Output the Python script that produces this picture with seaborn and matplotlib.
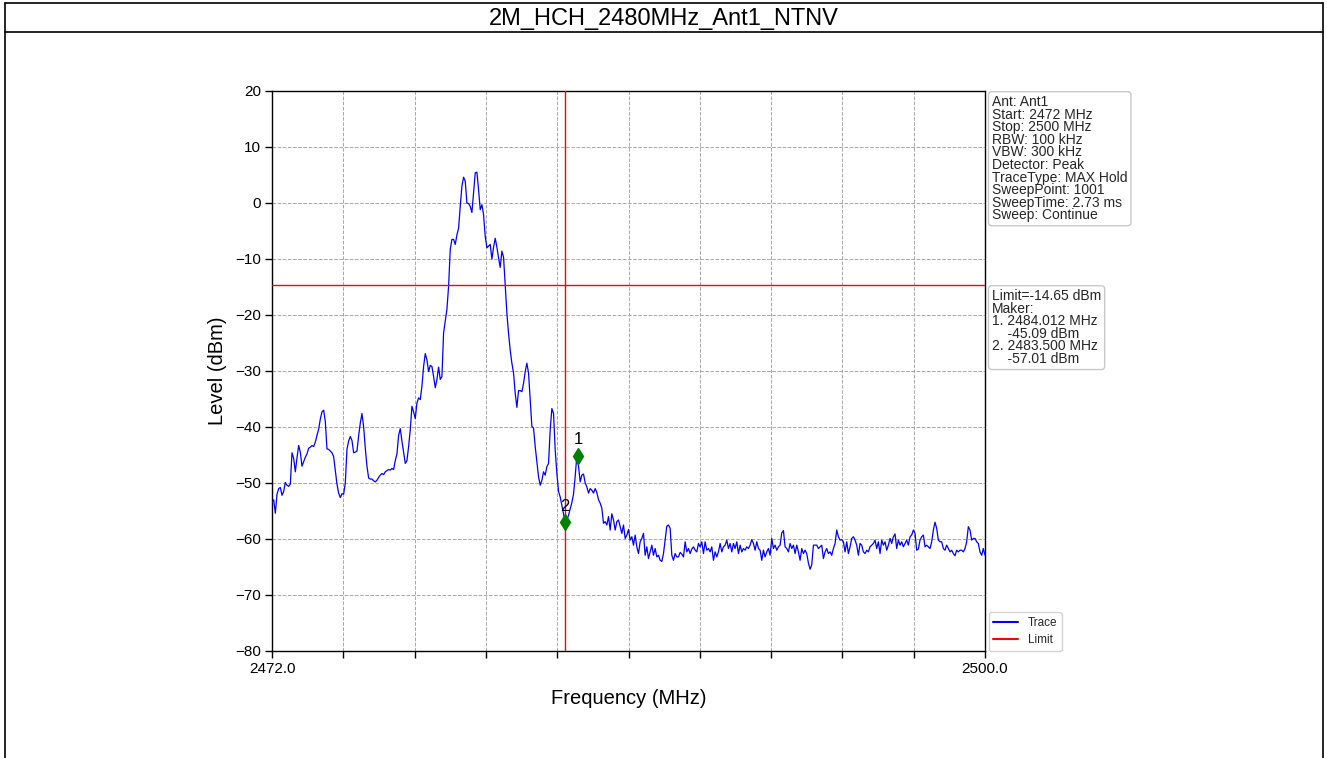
import numpy as np
import pandas as pd
import matplotlib
matplotlib.use("Agg")
import matplotlib.pyplot as plt
from matplotlib.lines import Line2D
from matplotlib import transforms
import seaborn as sns

# ---- measurement data -------------------------------------------------------
TITLE = "2M_HCH_2480MHz_Ant1_NTNV"
START_MHZ = 2472.0
STOP_MHZ = 2500.0
LIMIT_DBM = -14.65
BAND_EDGE_MHZ = 2483.5
MARKER_FREQ_MHZ = [2484.012, 2483.500]
MARKER_LEVEL_DBM = [-45.09, -57.01]
SETTINGS = [
    ("Ant", "Ant1"),
    ("Start", "2472 MHz"),
    ("Stop", "2500 MHz"),
    ("RBW", "100 kHz"),
    ("VBW", "300 kHz"),
    ("Detector", "Peak"),
    ("TraceType", "MAX Hold"),
    ("SweepPoint", "1001"),
    ("SweepTime", "2.73 ms"),
    ("Sweep", "Continue"),
]
Y_TICKS = [-80, -70, -60, -50, -40, -30, -20, -10, 0, 10, 20]

# max-hold trace, equally spaced sweep points from START_MHZ to STOP_MHZ
LEVEL_DBM = [
    -53.5, -53.0, -55.4, -52.0, -51.0, -50.8, -52.2, -51.5, -49.9, -50.4,
    -50.6, -50.2, -44.6, -45.6, -48.0, -45.5, -43.3, -44.5, -47.0, -46.2,
    -45.4, -44.8, -43.8, -43.6, -43.3, -43.5, -42.7, -41.5, -40.4, -38.6,
    -37.3, -37.0, -39.0, -43.9, -44.0, -44.3, -44.6, -45.3, -47.8, -50.2,
    -51.8, -52.6, -51.9, -52.0, -50.0, -44.0, -42.5, -41.7, -42.4, -44.6,
    -44.5, -44.3, -41.6, -39.3, -37.6, -39.9, -43.8, -47.0, -49.1, -49.3,
    -49.3, -49.6, -49.8, -49.5, -49.0, -48.6, -48.3, -48.5, -48.0, -47.8,
    -47.6, -47.7, -47.4, -47.6, -46.0, -44.8, -41.5, -40.3, -42.5, -44.5,
    -46.5, -46.0, -43.5, -40.5, -36.3, -37.3, -38.5, -35.7, -34.8, -35.1,
    -32.7, -29.2, -26.9, -28.0, -30.1, -29.0, -29.2, -31.0, -33.0, -31.5,
    -29.3, -31.5, -31.0, -23.2, -21.1, -19.0, -14.9, -8.3, -6.5, -6.5,
    -7.4, -5.7, -4.5, -0.6, 3.0, 4.6, 3.9, 0.0, -0.1, -0.6,
    -1.7, 1.8, 5.4, 5.5, 2.4, -1.2, -0.3, -2.1, -6.0, -8.0,
    -7.7, -7.4, -10.0, -7.9, -6.3, -7.9, -9.8, -11.5, -8.6, -9.7,
    -14.7, -19.7, -23.3, -26.3, -28.6, -30.4, -34.0, -36.5, -33.5, -33.5,
    -33.7, -32.2, -30.1, -28.6, -30.4, -35.2, -39.9, -40.2, -43.5, -46.2,
    -48.9, -50.4, -49.5, -48.0, -48.6, -47.1, -46.5, -40.5, -36.7, -37.6,
    -44.1, -48.3, -51.5, -52.5, -54.0, -55.5, -57.0, -56.5, -55.8, -54.6,
    -53.5, -52.0, -48.8, -45.1, -47.0, -49.8, -48.6, -48.4, -50.0, -50.7,
    -51.8, -51.0, -51.3, -51.8, -51.0, -51.7, -53.0, -53.6, -54.5, -57.2,
    -56.9, -57.5, -56.0, -58.4, -55.5, -56.6, -58.4, -56.9, -56.6, -57.8,
    -59.0, -57.5, -59.9, -59.3, -58.3, -60.2, -59.6, -61.1, -59.3, -61.4,
    -62.6, -60.5, -59.9, -59.0, -62.9, -61.4, -63.5, -62.3, -61.1, -62.9,
    -61.7, -63.2, -62.9, -63.8, -64.0, -62.6, -60.2, -57.7, -57.5, -58.1,
    -62.9, -63.8, -62.6, -63.2, -63.2, -62.4, -62.7, -63.2, -60.5, -62.3,
    -61.7, -62.6, -61.8, -61.4, -62.0, -62.3, -60.8, -61.4, -60.5, -62.6,
    -60.5, -62.0, -61.7, -62.3, -61.4, -63.8, -62.3, -63.2, -62.3, -60.8,
    -62.3, -61.4, -61.1, -60.2, -61.7, -60.8, -62.3, -60.8, -61.7, -60.5,
    -62.6, -61.1, -62.3, -61.7, -62.0, -61.4, -61.7, -61.1, -60.1, -60.8,
    -62.0, -60.5, -61.7, -62.0, -63.8, -62.0, -63.2, -62.3, -61.7, -62.9,
    -59.9, -61.7, -61.1, -62.0, -61.4, -61.1, -58.9, -58.5, -61.4, -61.7,
    -62.3,
    -60.8, -61.7, -61.1, -62.6, -61.1, -62.3, -63.8, -61.7, -62.6,
    -62.0, -62.6, -64.3, -65.4, -64.6, -61.1, -61.1, -61.1, -61.7, -61.4,
    -61.1, -63.5, -62.3, -61.7, -62.6, -62.3, -62.9, -61.7, -60.8, -58.4,
    -59.6, -60.2, -60.1, -60.5, -62.3, -60.5, -62.6, -61.4, -59.9, -59.6,
    -60.2, -61.1, -62.9, -60.8, -61.1, -62.3, -62.6, -62.0, -62.3, -61.4,
    -61.1, -60.8, -60.2, -61.7, -60.5, -62.6, -60.2, -61.1, -60.5, -62.0,
    -61.1, -59.9, -60.8, -59.6, -59.1, -61.7, -60.2, -61.1, -60.5, -61.4,
    -60.8, -60.2, -61.1, -59.6, -59.3, -58.4, -59.0, -62.0, -61.8, -60.2,
    -59.6, -59.3, -61.4, -61.1, -61.4, -61.7, -60.5, -58.4, -57.0, -58.1,
    -60.2, -60.5, -60.5, -61.7, -62.0, -61.1, -61.7, -62.3, -62.0, -62.6,
    -63.0, -62.0, -62.3, -62.0, -62.0, -62.3, -61.7, -60.5, -57.8, -58.4,
    -60.2, -59.9, -59.9, -60.5, -60.8, -62.3, -62.9, -61.7, -62.9,
]

# ---- styling ------------------------------------------------------------------
sns.set_theme(style="white")
plt.rcParams["font.family"] = ["Liberation Sans", "DejaVu Sans"]
plt.rcParams["axes.unicode_minus"] = True

W, H = 1327, 758
fig = plt.figure(figsize=(W / 100, H / 100), dpi=100)
fig.patch.set_facecolor("white")

# report-style frame with a title row
frame_kw = dict(transform=fig.transFigure, color="black", lw=1.2)
fig.add_artist(Line2D([5 / W, 1323 / W], [1 - 3 / H, 1 - 3 / H], **frame_kw))
fig.add_artist(Line2D([5 / W, 1323 / W], [1 - 32 / H, 1 - 32 / H], **frame_kw))
fig.add_artist(Line2D([5 / W, 5 / W], [0, 1 - 3 / H], **frame_kw))
fig.add_artist(Line2D([1323 / W, 1323 / W], [0, 1 - 3 / H], **frame_kw))
fig.text(0.5, 1 - 18.5 / H, TITLE, ha="center", va="center", fontsize=17, color="black")

ax = fig.add_axes([272 / W, 1 - 651 / H, 713 / W, 560 / H])
ax.set_facecolor("white")

freq = np.linspace(START_MHZ, STOP_MHZ, len(LEVEL_DBM))
trace = pd.DataFrame({"Frequency (MHz)": freq, "Level (dBm)": LEVEL_DBM})
sns.lineplot(data=trace, x="Frequency (MHz)", y="Level (dBm)", ax=ax,
             color="blue", linewidth=0.9, label="Trace", estimator=None, zorder=3)

ax.axhline(LIMIT_DBM, color="red", lw=1.0, label="Limit", zorder=4)
ax.axvline(BAND_EDGE_MHZ, color="red", lw=1.0, zorder=4)

for n, (f, lvl) in enumerate(zip(MARKER_FREQ_MHZ, MARKER_LEVEL_DBM), start=1):
    ax.plot([f], [lvl], marker="d", color="green", markersize=8, ls="none", zorder=6)
    ax.annotate(str(n), (f, lvl), xytext=(0, 6), textcoords="offset points",
                ha="center", va="bottom", fontsize=12, color="black", zorder=7)

ax.set_xlim(START_MHZ, STOP_MHZ)
ax.set_ylim(Y_TICKS[0], Y_TICKS[-1])
xt = np.linspace(START_MHZ, STOP_MHZ, 11)
ax.set_xticks(xt)
ax.set_xticklabels([f"{START_MHZ:.1f}"] + [""] * 9 + [f"{STOP_MHZ:.1f}"])
ax.set_yticks(Y_TICKS)
ax.tick_params(axis="both", direction="out", length=5, width=1, colors="black",
               labelsize=11, bottom=True, left=True, pad=3)
ax.grid(True, ls="--", color="#a8a8a8", lw=0.7)
for spine in ax.spines.values():
    spine.set_color("black")
    spine.set_linewidth(1.0)
ax.set_xlabel("Frequency (MHz)", fontsize=14.5, labelpad=9, color="black")
ax.set_ylabel("Level (dBm)", fontsize=14.5, labelpad=6, color="black")

# settings box beside the top of the plot
box_kw = dict(boxstyle="round,pad=0.25", fc="white", ec="#c8c8c8", lw=1)
settings_text = "\n".join(f"{k}: {v}" for k, v in SETTINGS)
ax.annotate(settings_text, xy=(1, 1), xycoords="axes fraction", xytext=(5, -3),
            textcoords="offset points", ha="left", va="top", fontsize=10,
            linespacing=0.87, bbox=box_kw)

# limit and marker readout, aligned with the limit line
readout = [f"Limit={LIMIT_DBM:.2f} dBm", "Maker:"]
for n, (f, lvl) in enumerate(zip(MARKER_FREQ_MHZ, MARKER_LEVEL_DBM), start=1):
    readout.append(f"{n}. {f:.3f} MHz")
    readout.append(f"    {lvl:.2f} dBm")
blend = transforms.blended_transform_factory(ax.transAxes, ax.transData)
ax.annotate("\n".join(readout), xy=(1, LIMIT_DBM), xycoords=blend, xytext=(5, -3),
            textcoords="offset points", ha="left", va="top", fontsize=10,
            linespacing=0.87, bbox=box_kw)

leg = ax.legend(loc="lower left", bbox_to_anchor=(1.005, 0.0), fontsize=8.5,
                frameon=True, fancybox=True, edgecolor="#c8c8c8",
                handlelength=2.1, labelspacing=0.45, borderaxespad=0)
leg.get_frame().set_linewidth(1)
for line in leg.get_lines():
    line.set_linewidth(1.5)

fig.savefig("out.png", dpi=100, facecolor="white")
